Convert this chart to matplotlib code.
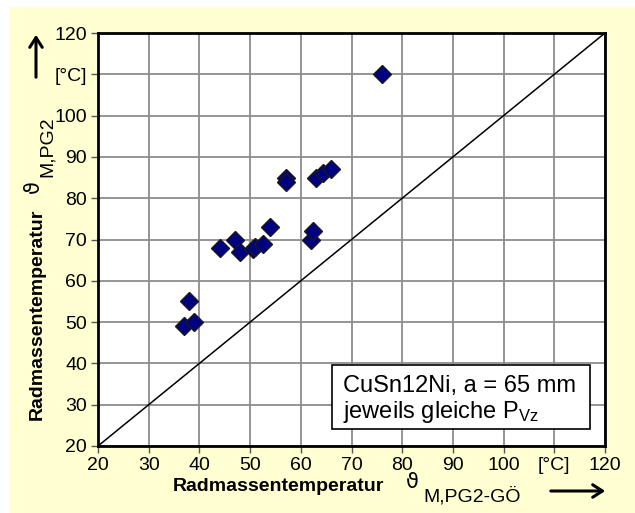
import matplotlib
matplotlib.use("Agg")
import matplotlib.pyplot as plt
from matplotlib.patches import Rectangle, FancyArrowPatch

plt.rcParams['font.family'] = ['Liberation Sans', 'DejaVu Sans']
plt.rcParams['mathtext.fontset'] = 'custom'
plt.rcParams['mathtext.rm'] = 'Liberation Sans'
plt.rcParams['mathtext.it'] = 'Liberation Sans:italic'

# Messwerte: Radmassentemperatur PG2-GÖ (x) vs. PG2 (y)
x_goe = [37, 39, 38, 44, 47, 48, 50.5, 51, 52.5, 54, 57, 57, 62, 62.5, 63, 64.3, 66, 76]
y_pg2 = [49, 50, 55, 68, 70, 67, 67.8, 68.3, 69, 73, 85, 84, 70, 72, 85, 86, 87, 110]

ticks = [20, 30, 40, 50, 60, 70, 80, 90, 100, 110, 120]
tick_labels = ['20', '30', '40', '50', '60', '70', '80', '90', '100', '[°C]', '120']

W, H = 635, 513
bg = '#FFFFD2'


def fx(px):
    return px / W


def fy(py):
    return 1 - py / H


fig = plt.figure(figsize=(W / 100, H / 100), dpi=100)
fig.patch.set_facecolor('white')
fig.patches.append(Rectangle((fx(10), 0), 1, fy(7), transform=fig.transFigure,
                             facecolor=bg, edgecolor='none', zorder=-10))

ax = fig.add_axes([fx(98), fy(446), 507 / W, 413 / H])
ax.set_facecolor('white')
ax.set_xlim(20, 120)
ax.set_ylim(20, 120)
ax.set_xticks(ticks)
ax.set_xticklabels(tick_labels)
ax.set_yticks(ticks)
ax.set_yticklabels(tick_labels)
ax.tick_params(direction='out', length=5, width=1, labelsize=14, pad=3, color='#555555')
ax.grid(True, color='#8c8c8c', linewidth=1.3)
ax.set_axisbelow(True)
for s in ax.spines.values():
    s.set_linewidth(2)
    s.set_color('black')

# Winkelhalbierende
ax.plot([20, 120], [20, 120], color='black', linewidth=1.1, zorder=2)

ax.plot(x_goe, y_pg2, linestyle='none', marker='D', markersize=9,
        markerfacecolor='#000080', markeredgecolor='#1a1a1a', markeredgewidth=1, zorder=3)

# Legendenkasten
fig.patches.append(Rectangle((fx(332), fy(429)), 258 / W, 64 / H, transform=fig.transFigure,
                             facecolor='white', edgecolor='black', linewidth=1.2, zorder=5))
fig.text(fx(343), fy(392), 'CuSn12Ni, a = 65 mm', fontsize=17, ha='left', va='baseline', zorder=6)
fig.text(fx(343), fy(418), 'jeweils gleiche P$_{\\mathrm{Vz}}$', fontsize=17, ha='left',
         va='baseline', zorder=6)

# Achsbeschriftung x
fig.text(fx(173), fy(491), 'Radmassentemperatur', fontsize=14, fontweight='bold',
         ha='left', va='baseline')
fig.text(fx(406), fy(488), 'ϑ', fontsize=15, family='DejaVu Sans', ha='left', va='baseline')
fig.text(fx(423), fy(502), 'M,PG2-GÖ', fontsize=14, ha='left', va='baseline')

# Achsbeschriftung y
fig.text(fx(42), fy(420), 'Radmassentemperatur', fontsize=14, fontweight='bold',
         ha='left', va='baseline', rotation=90, rotation_mode='anchor')
fig.text(fx(39), fy(193), 'ϑ', fontsize=15, family='DejaVu Sans',
         ha='left', va='baseline', rotation=90, rotation_mode='anchor')
fig.text(fx(52), fy(177), 'M,PG2', fontsize=14,
         ha='left', va='baseline', rotation=90, rotation_mode='anchor')

# Pfeile
fig.add_artist(FancyArrowPatch((fx(548), fy(491)), (fx(608), fy(491)),
               transform=fig.transFigure, arrowstyle='->,head_length=7,head_width=4.5',
               color='black', linewidth=2.2, mutation_scale=1))
fig.add_artist(FancyArrowPatch((fx(36), fy(80)), (fx(36), fy(32)),
               transform=fig.transFigure, arrowstyle='->,head_length=7,head_width=4.5',
               color='black', linewidth=2.2, mutation_scale=1))

fig.savefig('out.png', dpi=100, facecolor=fig.get_facecolor())
